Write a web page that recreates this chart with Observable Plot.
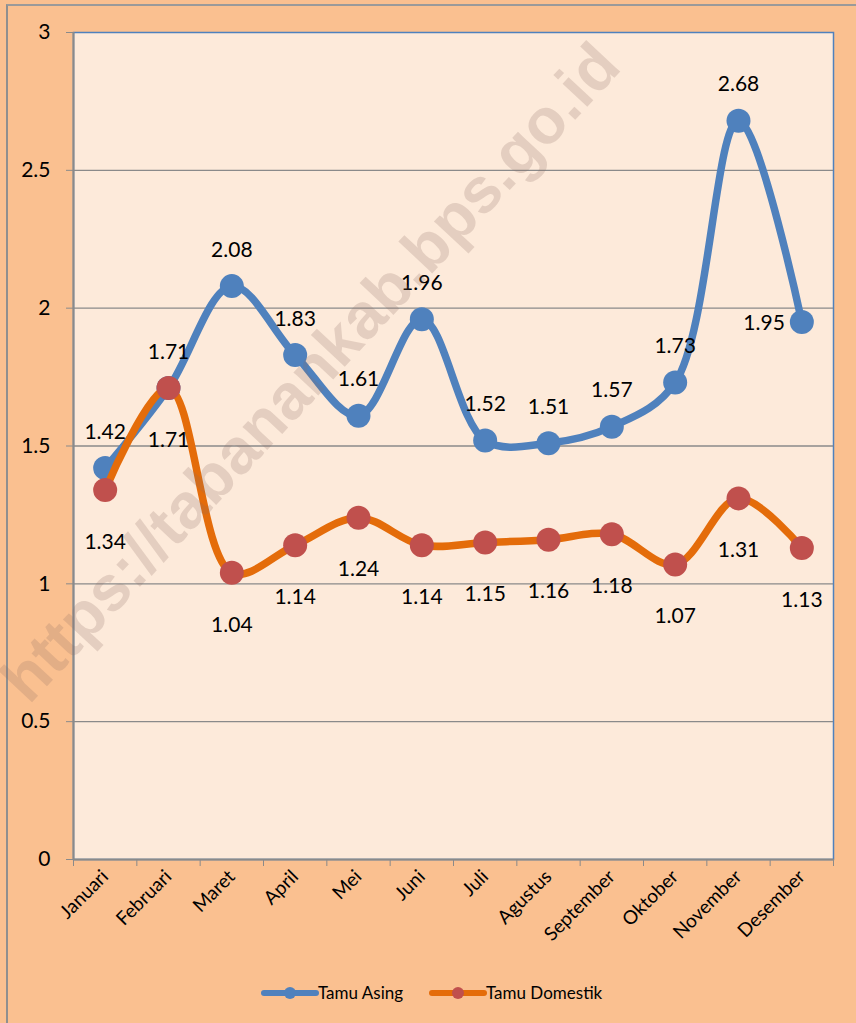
<!DOCTYPE html>
<html>
<head>
<meta charset="utf-8">
<script src="https://cdn.jsdelivr.net/npm/d3@7"></script>
<script src="https://cdn.jsdelivr.net/npm/@observablehq/plot@0.6"></script>
<style>
  html, body { margin: 0; padding: 0; }
  body { width: 856px; height: 1023px; background: #FAC090; position: relative; overflow: hidden; font-family: Lato, "Open Sans", sans-serif; }
  #frame { position: absolute; left: 6px; top: 4px; width: 900px; height: 1100px; border-left: 2px solid #8f8f8f; border-top: 2px solid #9a9a9a; box-sizing: border-box; }
  #chart { position: absolute; left: 0; top: 0; }
  #legend { position: absolute; left: 0; top: 978px; width: 856px; }
  #wm { position: absolute; left: 310px; top: 372px; transform: translate(-50%, -50%) rotate(-47deg); white-space: nowrap;
        font-family: "Liberation Sans", Arial, sans-serif; font-weight: bold; font-size: 64px; color: rgba(140,110,100,0.22); pointer-events: none; }
</style>
</head>
<body>
<div id="frame"></div>
<div id="chart"></div>
<div id="legend"></div>
<div id="wm">https://tabanankab.bps.go.id</div>
<script>
const months = ["Januari","Februari","Maret","April","Mei","Juni","Juli","Agustus","September","Oktober","November","Desember"];
const tamuAsing = [1.42, 1.71, 2.08, 1.83, 1.61, 1.96, 1.52, 1.51, 1.57, 1.73, 2.68, 1.95];
const tamuDomestik = [1.34, 1.71, 1.04, 1.14, 1.24, 1.14, 1.15, 1.16, 1.18, 1.07, 1.31, 1.13];
const yTicks = [0, 0.5, 1, 1.5, 2, 2.5, 3];
const seriesNames = ["Tamu Asing", "Tamu Domestik"];

const asing = months.map((m, i) => ({i, month: m, value: tamuAsing[i]}));
const domestik = months.map((m, i) => ({i, month: m, value: tamuDomestik[i]}));
const boundaries = d3.range(months.length + 1).map(k => k - 0.5);
const lastIdx = months.length - 1;

const blue = "#4F81BD", orange = "#E46C0A", red = "#C0504D", grid = "#8a8a8a";

const chart = Plot.plot({
  width: 856,
  height: 960,
  marginLeft: 73,
  marginRight: 23,
  marginTop: 32,
  marginBottom: 101,
  style: {background: "transparent", fontFamily: "Lato, 'Open Sans', sans-serif", color: "#000"},
  x: {type: "linear", domain: [-0.5, months.length - 0.5]},
  y: {domain: [0, 3]},
  marks: [
    Plot.frame({fill: "#FDEADA", stroke: blue, strokeWidth: 1.5}),
    Plot.ruleY(yTicks.filter(t => t > 0 && t < 3), {stroke: grid, strokeWidth: 1.4}),
    Plot.ruleX([-0.5], {stroke: grid, strokeWidth: 2}),
    Plot.ruleY([0], {stroke: grid, strokeWidth: 2}),
    Plot.axisY({ticks: yTicks, tickSize: 7, tickPadding: 16, fontSize: 21, label: null, stroke: grid, tickFormat: d => String(d)}),
    Plot.axisX({ticks: boundaries, tickSize: 7, tickFormat: () => "", label: null, stroke: grid}),
    Plot.axisX({ticks: d3.range(months.length), tickSize: 0, tickPadding: 14, tickRotate: -45, fontSize: 19, label: null, tickFormat: i => months[i]}),
    Plot.line(asing, {x: "i", y: "value", stroke: blue, strokeWidth: 7.5, curve: "catmull-rom"}),
    Plot.dot(asing, {x: "i", y: "value", r: 12, fill: blue}),
    Plot.line(domestik, {x: "i", y: "value", stroke: orange, strokeWidth: 7.5, curve: "catmull-rom"}),
    Plot.dot(domestik, {x: "i", y: "value", r: 12, fill: red}),
    Plot.text(asing.filter(d => d.i !== lastIdx), {x: "i", y: "value", text: d => d.value.toFixed(2), dy: -36, fontSize: 21, fill: "#000"}),
    Plot.text(asing.filter(d => d.i === lastIdx), {x: "i", y: "value", text: d => d.value.toFixed(2), dx: -17, dy: 1, textAnchor: "end", fontSize: 21, fill: "#000"}),
    Plot.text(domestik, {x: "i", y: "value", text: d => d.value.toFixed(2), dy: 52, fontSize: 21, fill: "#000"})
  ]
});
document.getElementById("chart").appendChild(chart);

// legend
const legend = d3.select("#legend").append("svg").attr("width", 856).attr("height", 40);
const items = [
  {name: seriesNames[0], line: blue, dot: blue, x: 264},
  {name: seriesNames[1], line: orange, dot: red, x: 432}
];
for (const it of items) {
  const g = legend.append("g").attr("transform", `translate(${it.x},15)`);
  g.append("line").attr("x1", 0).attr("x2", 52).attr("y1", 0).attr("y2", 0)
    .attr("stroke", it.line).attr("stroke-width", 6).attr("stroke-linecap", "round");
  g.append("circle").attr("cx", 26).attr("cy", 0).attr("r", 6).attr("fill", it.dot);
  g.append("text").attr("x", 54).attr("y", 6).attr("font-size", 17)
    .attr("font-family", "Lato, 'Open Sans', sans-serif").attr("fill", "#000").text(it.name);
}
</script>
</body>
</html>
